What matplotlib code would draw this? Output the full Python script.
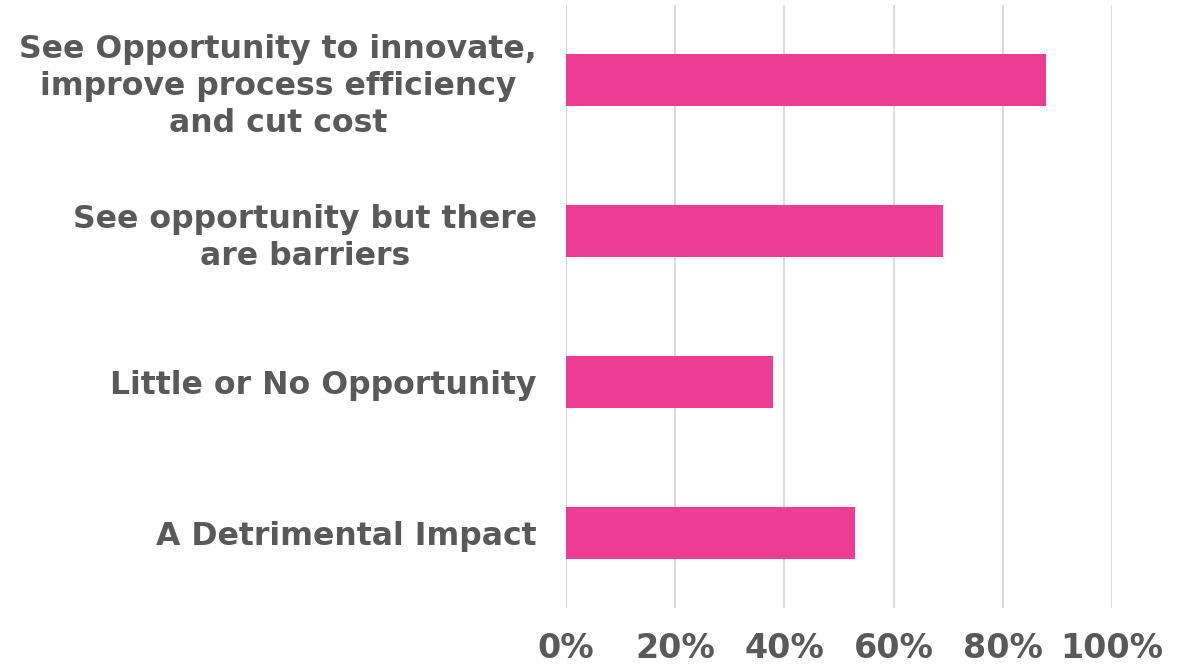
import matplotlib.pyplot as plt
import numpy as np

categories = [
    "See Opportunity to innovate,\nimprove process efficiency\nand cut cost",
    "See opportunity but there\nare barriers",
    "Little or No Opportunity",
    "A Detrimental Impact",
]
shares = [0.88, 0.69, 0.38, 0.53]
tick_values = [0.0, 0.2, 0.4, 0.6, 0.8, 1.0]
tick_labels = ["0%", "20%", "40%", "60%", "80%", "100%"]

text_color = "#595959"
bar_color = "#EC3C93"

fig = plt.figure(figsize=(11.92, 6.66), dpi=100)
ax = fig.add_axes([0.4748, 0.0871, 0.4581, 0.9054])

y_pos = np.arange(len(categories))
ax.barh(y_pos, shares, height=0.345, color=bar_color, zorder=3)

ax.set_xlim(0, 1)
ax.set_ylim(len(categories) - 0.5, -0.5)
ax.set_xticks(tick_values)
ax.set_xticklabels(tick_labels)
ax.set_yticks(y_pos)
ax.set_yticklabels(categories)

ax.xaxis.grid(True, color="#D9D9D9", linewidth=1.3, zorder=0)
for side in ["top", "right", "bottom", "left"]:
    ax.spines[side].set_visible(False)

ax.tick_params(axis="x", length=0, pad=17, labelsize=24, labelcolor=text_color)
ax.tick_params(axis="y", length=0, pad=21, labelsize=22.7, labelcolor=text_color)
for lbl in ax.get_xticklabels() + ax.get_yticklabels():
    lbl.set_fontweight("bold")
for lbl in ax.get_yticklabels():
    lbl.set_multialignment("center")
    lbl.set_linespacing(1.25)

fig.savefig("out.png", dpi=100)
